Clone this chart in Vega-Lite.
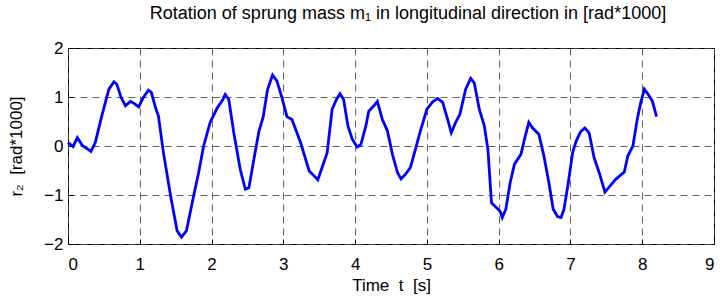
{
  "$schema": "https://vega.github.io/schema/vega-lite/v6.json",
  "width": 646,
  "height": 196,
  "autosize": "none",
  "padding": {"left": 68, "top": 48, "right": 9, "bottom": 58},
  "background": "white",
  "title": {
    "text": "Rotation of sprung mass m₁ in longitudinal direction in [rad*1000]",
    "font": "Liberation Sans",
    "fontSize": 18,
    "fontWeight": "normal",
    "color": "black",
    "anchor": "middle",
    "offset": 16,
    "dx": 17
  },
  "config": {
    "view": {"stroke": "black", "strokeWidth": 1},
    "axis": {
      "labelFont": "Liberation Sans",
      "labelFontSize": 17,
      "labelColor": "black",
      "titleFont": "Liberation Sans",
      "titleFontSize": 17,
      "titleFontWeight": "normal",
      "titleColor": "black",
      "domain": false,
      "tickColor": "black",
      "tickSize": -5,
      "grid": true,
      "gridColor": "#444444",
      "gridDash": [7, 5],
      "gridWidth": 1,
      "gridOpacity": 0.85
    }
  },
  "data": {
    "values": [
      {"t": 0.00, "r": 0.07}, {"t": 0.07, "r": -0.01}, {"t": 0.13, "r": 0.17}, {"t": 0.20, "r": 0.01},
      {"t": 0.26, "r": -0.05}, {"t": 0.32, "r": -0.11}, {"t": 0.38, "r": 0.07}, {"t": 0.47, "r": 0.61},
      {"t": 0.57, "r": 1.16}, {"t": 0.64, "r": 1.31}, {"t": 0.68, "r": 1.26}, {"t": 0.74, "r": 0.99},
      {"t": 0.80, "r": 0.82}, {"t": 0.87, "r": 0.91}, {"t": 0.92, "r": 0.87}, {"t": 0.985, "r": 0.80},
      {"t": 1.05, "r": 0.99}, {"t": 1.12, "r": 1.14}, {"t": 1.16, "r": 1.10}, {"t": 1.22, "r": 0.78},
      {"t": 1.26, "r": 0.61}, {"t": 1.33, "r": -0.14}, {"t": 1.43, "r": -1.02}, {"t": 1.52, "r": -1.73},
      {"t": 1.58, "r": -1.86}, {"t": 1.65, "r": -1.73}, {"t": 1.75, "r": -1.02}, {"t": 1.82, "r": -0.54},
      {"t": 1.89, "r": 0.0}, {"t": 1.98, "r": 0.48}, {"t": 2.08, "r": 0.78}, {"t": 2.15, "r": 0.93},
      {"t": 2.19, "r": 1.05}, {"t": 2.24, "r": 0.95}, {"t": 2.31, "r": 0.27}, {"t": 2.40, "r": -0.48},
      {"t": 2.47, "r": -0.88}, {"t": 2.52, "r": -0.85}, {"t": 2.59, "r": -0.27}, {"t": 2.66, "r": 0.30},
      {"t": 2.72, "r": 0.60}, {"t": 2.78, "r": 1.15}, {"t": 2.85, "r": 1.45}, {"t": 2.91, "r": 1.33},
      {"t": 2.98, "r": 0.99}, {"t": 3.05, "r": 0.60}, {"t": 3.12, "r": 0.54}, {"t": 3.24, "r": 0.07},
      {"t": 3.36, "r": -0.51}, {"t": 3.43, "r": -0.61}, {"t": 3.48, "r": -0.69}, {"t": 3.54, "r": -0.44},
      {"t": 3.61, "r": -0.14}, {"t": 3.68, "r": 0.75}, {"t": 3.74, "r": 0.95}, {"t": 3.79, "r": 1.07},
      {"t": 3.84, "r": 0.95}, {"t": 3.90, "r": 0.41}, {"t": 3.96, "r": 0.14}, {"t": 4.03, "r": -0.02},
      {"t": 4.08, "r": 0.03}, {"t": 4.15, "r": 0.41}, {"t": 4.19, "r": 0.71}, {"t": 4.26, "r": 0.82},
      {"t": 4.31, "r": 0.91}, {"t": 4.38, "r": 0.54}, {"t": 4.45, "r": 0.31}, {"t": 4.52, "r": -0.17},
      {"t": 4.59, "r": -0.54}, {"t": 4.64, "r": -0.67}, {"t": 4.70, "r": -0.58}, {"t": 4.77, "r": -0.44},
      {"t": 4.84, "r": -0.07}, {"t": 4.91, "r": 0.31}, {"t": 5.00, "r": 0.75}, {"t": 5.08, "r": 0.90},
      {"t": 5.15, "r": 0.97}, {"t": 5.22, "r": 0.89}, {"t": 5.29, "r": 0.54}, {"t": 5.34, "r": 0.27},
      {"t": 5.40, "r": 0.48}, {"t": 5.46, "r": 0.65}, {"t": 5.54, "r": 1.16}, {"t": 5.61, "r": 1.38},
      {"t": 5.66, "r": 1.29}, {"t": 5.73, "r": 0.75}, {"t": 5.80, "r": 0.41}, {"t": 5.85, "r": -0.07},
      {"t": 5.90, "r": -1.16}, {"t": 5.97, "r": -1.26}, {"t": 6.02, "r": -1.33}, {"t": 6.05, "r": -1.46},
      {"t": 6.10, "r": -1.29}, {"t": 6.16, "r": -0.75}, {"t": 6.22, "r": -0.37}, {"t": 6.31, "r": -0.17},
      {"t": 6.36, "r": 0.14}, {"t": 6.42, "r": 0.48}, {"t": 6.47, "r": 0.37}, {"t": 6.56, "r": 0.24},
      {"t": 6.63, "r": -0.20}, {"t": 6.70, "r": -0.75}, {"t": 6.76, "r": -1.29}, {"t": 6.82, "r": -1.44},
      {"t": 6.87, "r": -1.46}, {"t": 6.91, "r": -1.29}, {"t": 6.97, "r": -0.75}, {"t": 7.03, "r": -0.14},
      {"t": 7.08, "r": 0.10}, {"t": 7.14, "r": 0.29}, {"t": 7.20, "r": 0.37}, {"t": 7.26, "r": 0.27},
      {"t": 7.33, "r": -0.24}, {"t": 7.40, "r": -0.54}, {"t": 7.48, "r": -0.94}, {"t": 7.55, "r": -0.82},
      {"t": 7.63, "r": -0.68}, {"t": 7.75, "r": -0.53}, {"t": 7.80, "r": -0.20}, {"t": 7.87, "r": 0.0},
      {"t": 7.93, "r": 0.54}, {"t": 7.98, "r": 0.89}, {"t": 8.03, "r": 1.16}, {"t": 8.08, "r": 1.06},
      {"t": 8.14, "r": 0.92}, {"t": 8.20, "r": 0.60}
    ]
  },
  "mark": {"type": "line", "color": "#0000ff", "strokeWidth": 2.8, "interpolate": "linear"},
  "encoding": {
    "x": {
      "field": "t", "type": "quantitative",
      "scale": {"domain": [0, 9], "nice": false},
      "axis": {"values": [0,1,2,3,4,5,6,7,8,9], "format": "d", "title": "Time\u00a0 t\u00a0 [s]", "labelPadding": 17, "titlePadding": 5}
    },
    "y": {
      "field": "r", "type": "quantitative",
      "scale": {"domain": [-2, 2], "nice": false},
      "axis": {"values": [-2,-1,0,1,2], "format": "d", "title": "r₂\u00a0 [rad*1000]", "labelPadding": 10, "titlePadding": 18}
    }
  }
}
